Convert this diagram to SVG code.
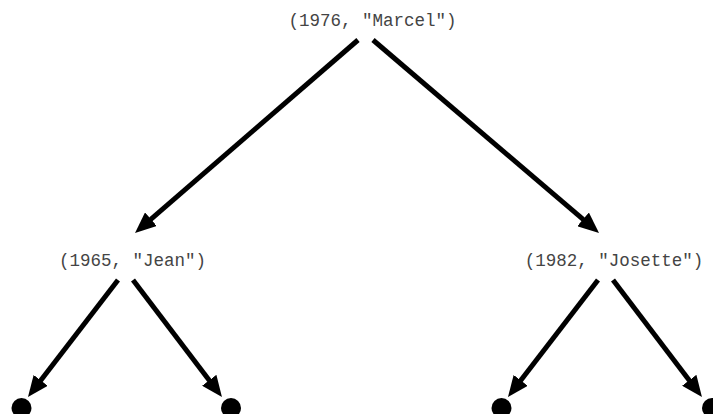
<svg xmlns="http://www.w3.org/2000/svg" width="713" height="414" viewBox="0 0 713 414">
<style>
.lbl{font-family:"Liberation Mono","Courier New",monospace;font-size:17.5px;fill:#444;text-anchor:middle}
.edge{stroke:#000;stroke-width:5;fill:none;marker-end:url(#ah)}
.leaf{fill:#000}
</style>
<defs>
<marker id="ah" markerUnits="userSpaceOnUse" viewBox="0 -9 21 18" refX="9" refY="0" markerWidth="21" markerHeight="18" orient="auto">
<path d="M0,-9 L21,0 L0,9 z" fill="#000"/>
</marker>
</defs>
<rect width="713" height="414" fill="#fff"/>
<g id="edges">
<line class="edge" x1="358" y1="40" x2="144.1" y2="225.1"/>
<line class="edge" x1="373" y1="40" x2="589.9" y2="225.2"/>
<line class="edge" x1="118" y1="280" x2="35.3" y2="387.5"/>
<line class="edge" x1="133" y1="280" x2="214.7" y2="387.4"/>
<line class="edge" x1="598" y1="280" x2="515.3" y2="387.5"/>
<line class="edge" x1="613" y1="280" x2="694.7" y2="387.4"/>
</g>
<g id="marcel"><text class="lbl" x="372.5" y="26">(1976, "Marcel")</text></g>
<g id="jean"><text class="lbl" x="132.5" y="266">(1965, "Jean")</text></g>
<g id="josette"><text class="lbl" x="614" y="266">(1982, "Josette")</text></g>
<g id="leaf1"><circle class="leaf" cx="21.5" cy="408" r="10"/></g>
<g id="leaf2"><circle class="leaf" cx="231" cy="408" r="10"/></g>
<g id="leaf3"><circle class="leaf" cx="501.5" cy="408" r="10"/></g>
<g id="leaf4"><circle class="leaf" cx="712" cy="408" r="10"/></g>
</svg>
